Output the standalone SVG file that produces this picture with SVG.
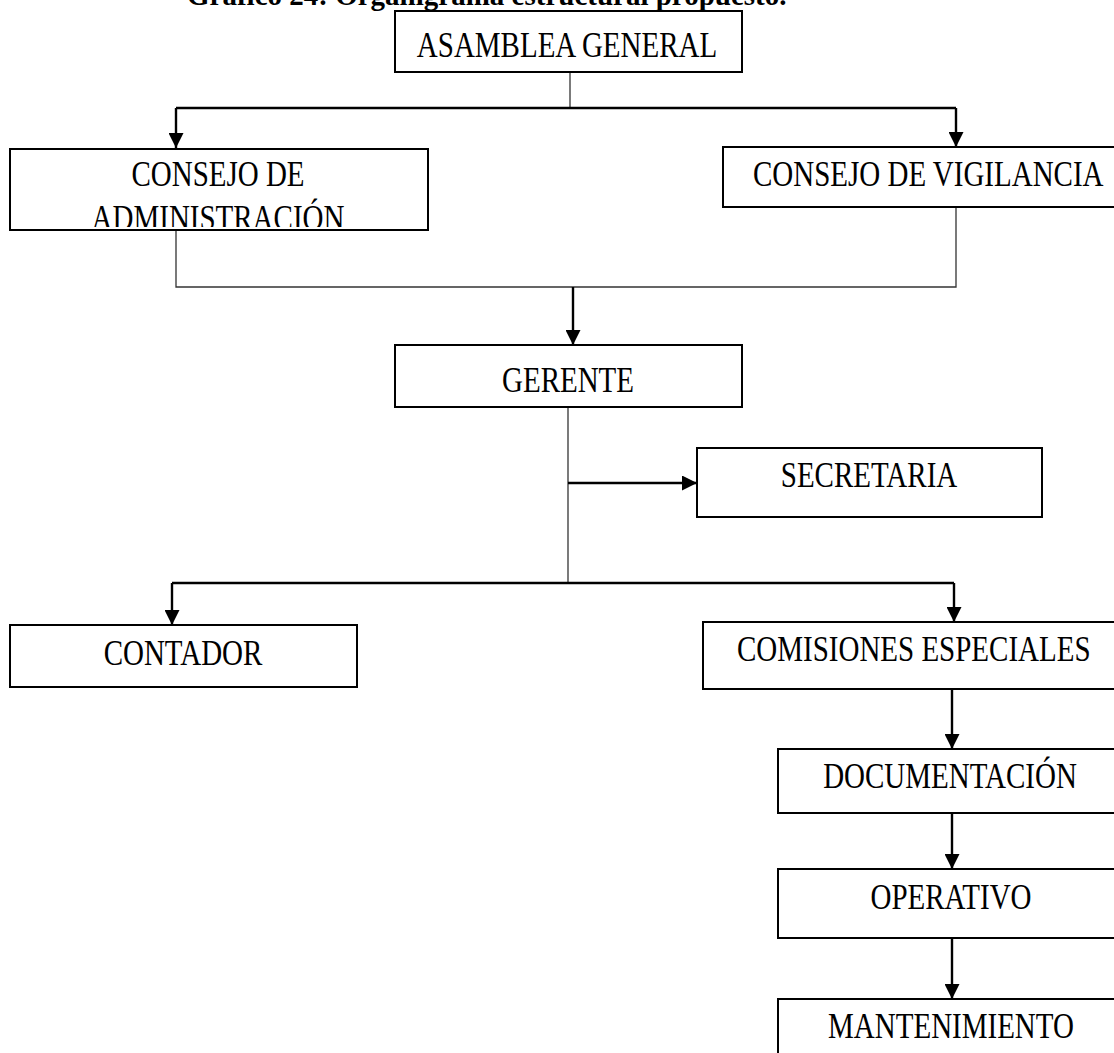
<svg xmlns="http://www.w3.org/2000/svg" width="1114" height="1053" viewBox="0 0 1114 1053">
<style>
.box{fill:#fff;stroke:#000;stroke-width:2}
.lbl{font-family:"Liberation Serif","Times New Roman",serif;font-size:29px;fill:#000}
.thin{stroke:#333;stroke-width:1.3;fill:none}
.thick{stroke:#000;stroke-width:2.4;fill:none}
.title{font-family:"Liberation Serif","Times New Roman",serif;font-size:29px;font-weight:bold;fill:#000}
</style>
<defs>
<marker id="ah" viewBox="0 0 10 10" refX="10" refY="5" markerUnits="userSpaceOnUse" markerWidth="15" markerHeight="15" orient="auto">
<path d="M0,0 L10,5 L0,10 z" fill="#000"/>
</marker>
<clipPath id="clipAdm"><rect x="10" y="149" width="418" height="78"/></clipPath>
</defs>
<rect width="1114" height="1053" fill="#fff"/>
<text class="title" x="187" y="5">Gráfico 24: Organigrama estructural propuesto.</text>

<g id="connectors">
<line class="thin" x1="570" y1="72" x2="570" y2="108"/>
<line class="thick" x1="176" y1="108" x2="956" y2="108"/>
<line class="thick" x1="176" y1="108" x2="176" y2="148" marker-end="url(#ah)"/>
<line class="thick" x1="956" y1="108" x2="956" y2="147" marker-end="url(#ah)"/>
<polyline class="thin" points="176,230 176,287 956,287 956,207"/>
<line class="thick" x1="573" y1="287" x2="573" y2="345" marker-end="url(#ah)"/>
<line class="thin" x1="568" y1="407" x2="568" y2="583"/>
<line class="thick" x1="568" y1="483" x2="697" y2="483" marker-end="url(#ah)"/>
<line class="thick" x1="172" y1="583" x2="954" y2="583"/>
<line class="thick" x1="172" y1="583" x2="172" y2="625" marker-end="url(#ah)"/>
<line class="thick" x1="954" y1="583" x2="954" y2="622" marker-end="url(#ah)"/>
<line class="thick" x1="952" y1="689" x2="952" y2="749" marker-end="url(#ah)"/>
<line class="thick" x1="952" y1="813" x2="952" y2="869" marker-end="url(#ah)"/>
<line class="thick" x1="952" y1="938" x2="952" y2="999" marker-end="url(#ah)"/>
</g>

<g id="asamblea">
<rect class="box" x="395" y="11" width="347" height="61"/>
<text class="lbl" transform="translate(567,57) scale(1,1.2)" text-anchor="middle">ASAMBLEA GENERAL</text>
</g>
<g id="consejo-admin">
<rect class="box" x="10" y="149" width="418" height="81"/>
<text class="lbl" transform="translate(218,186) scale(1,1.2)" text-anchor="middle">CONSEJO DE</text>
<g clip-path="url(#clipAdm)">
<text class="lbl" transform="translate(218,230) scale(1,1.2)" text-anchor="middle">ADMINISTRACIÓN</text>
</g>
</g>
<g id="consejo-vig">
<rect class="box" x="723" y="147" width="400" height="60"/>
<text class="lbl" transform="translate(753,186) scale(1,1.2)">CONSEJO DE VIGILANCIA</text>
</g>
<g id="gerente">
<rect class="box" x="395" y="345" width="347" height="62"/>
<text class="lbl" transform="translate(568,392) scale(1,1.2)" text-anchor="middle">GERENTE</text>
</g>
<g id="secretaria">
<rect class="box" x="697" y="448" width="345" height="69"/>
<text class="lbl" transform="translate(869,487) scale(1,1.2)" text-anchor="middle">SECRETARIA</text>
</g>
<g id="contador">
<rect class="box" x="10" y="625" width="347" height="62"/>
<text class="lbl" transform="translate(183,665) scale(1,1.2)" text-anchor="middle">CONTADOR</text>
</g>
<g id="comisiones">
<rect class="box" x="703" y="622" width="420" height="67"/>
<text class="lbl" transform="translate(737,661) scale(1,1.2)">COMISIONES ESPECIALES</text>
</g>
<g id="documentacion">
<rect class="box" x="778" y="749" width="345" height="64"/>
<text class="lbl" transform="translate(950,788) scale(1,1.2)" text-anchor="middle">DOCUMENTACIÓN</text>
</g>
<g id="operativo">
<rect class="box" x="778" y="869" width="345" height="69"/>
<text class="lbl" transform="translate(951,909) scale(1,1.2)" text-anchor="middle">OPERATIVO</text>
</g>
<g id="mantenimiento">
<rect class="box" x="778" y="999" width="345" height="70"/>
<text class="lbl" transform="translate(951,1038) scale(1,1.2)" text-anchor="middle">MANTENIMIENTO</text>
</g>
</svg>
